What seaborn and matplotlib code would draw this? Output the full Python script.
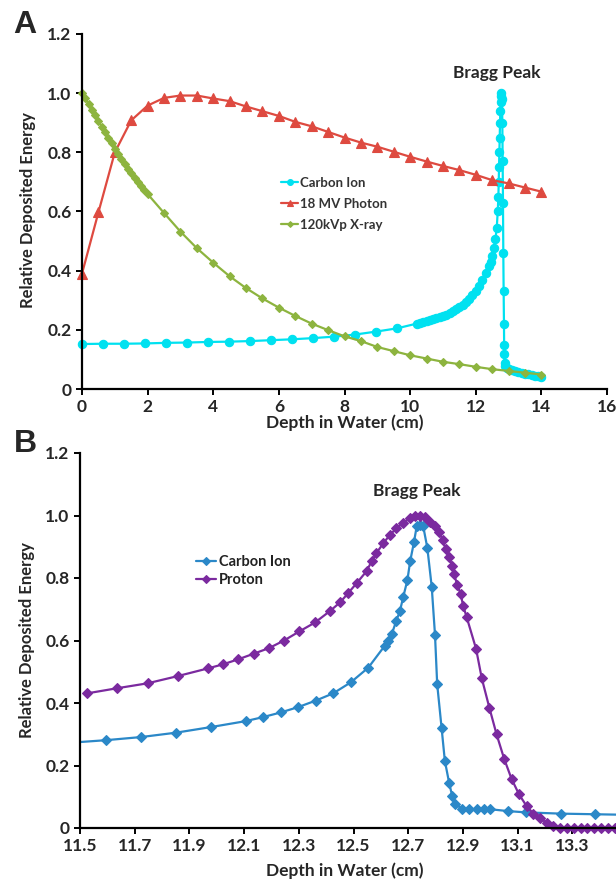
import numpy as np
import pandas as pd
import matplotlib
matplotlib.use("Agg")
import matplotlib.pyplot as plt
import seaborn as sns

# ---- Panel A: depth-dose curves ----
carbon_a_x = [0, 0.64, 1.28, 1.92, 2.56, 3.2, 3.84, 4.48, 5.12, 5.76, 6.4, 7.04, 7.68, 8.32, 8.96, 9.6,
              10.2, 10.3, 10.4, 10.5, 10.6, 10.7, 10.8, 10.9, 11.0, 11.1, 11.2, 11.3, 11.4, 11.5, 11.6,
              11.7, 11.8, 11.9, 12.0, 12.1, 12.2, 12.3, 12.4, 12.45, 12.5, 12.55, 12.6,
              12.64, 12.67, 12.69, 12.70, 12.71, 12.72, 12.73, 12.74, 12.75, 12.76, 12.77, 12.78,
              12.80, 12.81, 12.82, 12.83, 12.84, 12.85, 12.86, 12.865, 12.87, 12.88, 12.89,
              12.95, 13.0, 13.1, 13.2, 13.3, 13.4, 13.5, 13.6, 13.7, 13.8, 13.9, 14.0]
carbon_a_y = [0.152, 0.153, 0.153, 0.154, 0.156, 0.157, 0.159, 0.160, 0.162, 0.165, 0.168, 0.172, 0.177, 0.184, 0.194, 0.205,
              0.221, 0.224, 0.228, 0.231, 0.234, 0.237, 0.240, 0.243, 0.247, 0.251, 0.256, 0.262, 0.269, 0.276, 0.284,
              0.293, 0.304, 0.317, 0.332, 0.349, 0.369, 0.391, 0.415, 0.430, 0.448, 0.476, 0.506,
              0.545, 0.60, 0.65, 0.70, 0.75, 0.80, 0.85, 0.90, 0.94, 0.97, 0.99, 1.0,
              0.98, 0.90, 0.77, 0.63, 0.46, 0.33, 0.22, 0.15, 0.118, 0.087, 0.078,
              0.072, 0.069, 0.065, 0.061, 0.058, 0.055, 0.052, 0.050, 0.047, 0.045, 0.043, 0.041]

photon_x = [0, 0.5, 1, 1.5, 2, 2.5, 3, 3.5, 4, 4.5, 5, 5.5, 6, 6.5, 7, 7.5, 8, 8.5, 9, 9.5,
            10, 10.5, 11, 11.5, 12, 12.5, 13, 13.5, 14]
photon_y = [0.39, 0.597, 0.80, 0.908, 0.958, 0.984, 0.992, 0.992, 0.982, 0.973, 0.955, 0.939, 0.923, 0.903,
            0.888, 0.869, 0.85, 0.833, 0.819, 0.802, 0.785, 0.769, 0.754, 0.74, 0.724, 0.706, 0.695, 0.681, 0.667]

xray_x = [0, 0.1, 0.2, 0.3, 0.4, 0.5, 0.6, 0.7, 0.8, 0.9, 1.0, 1.1, 1.2, 1.3, 1.4, 1.5, 1.6, 1.7, 1.8, 1.9, 2.0,
          2.5, 3, 3.5, 4, 4.5, 5, 5.5, 6, 6.5, 7, 7.5, 8, 8.5, 9, 9.5, 10, 10.5, 11, 11.5, 12, 12.5, 13, 13.5, 14]
xray_y = [1.0, 0.982, 0.963, 0.944, 0.925, 0.906, 0.887, 0.868, 0.849, 0.830, 0.812, 0.795, 0.778, 0.761,
          0.745, 0.729, 0.714, 0.699, 0.685, 0.671, 0.659,
          0.595, 0.532, 0.476, 0.427, 0.381, 0.341, 0.306, 0.275, 0.247, 0.221, 0.199, 0.178, 0.162, 0.142,
          0.128, 0.114, 0.103, 0.092, 0.084, 0.075, 0.067, 0.061, 0.055, 0.049]

# ---- Panel B: zoom on the Bragg peak ----
carbon_b_x = [11.45, 11.595, 11.723, 11.851, 11.979, 12.106, 12.17, 12.235, 12.298, 12.363, 12.426, 12.49,
              12.554, 12.615, 12.627, 12.64, 12.657, 12.67, 12.682, 12.697, 12.707, 12.721, 12.731, 12.743,
              12.755, 12.77, 12.786, 12.798, 12.806, 12.822, 12.834, 12.85, 12.861, 12.871, 12.898, 12.923,
              12.95, 12.977, 13.0, 13.066, 13.13, 13.257, 13.383, 13.51]
carbon_b_y = [0.272, 0.281, 0.291, 0.305, 0.323, 0.342, 0.355, 0.370, 0.387, 0.408, 0.431, 0.466,
              0.513, 0.584, 0.600, 0.621, 0.664, 0.695, 0.740, 0.793, 0.853, 0.914, 0.965, 0.970,
              0.965, 0.896, 0.772, 0.618, 0.460, 0.321, 0.215, 0.143, 0.102, 0.078, 0.060, 0.060,
              0.060, 0.060, 0.060, 0.054, 0.050, 0.046, 0.044, 0.042]

proton_x = [11.527, 11.634, 11.747, 11.857, 11.969, 12.024, 12.079, 12.136, 12.192, 12.246, 12.302, 12.36,
            12.415, 12.451, 12.48, 12.513, 12.548, 12.566, 12.584, 12.609, 12.633, 12.657, 12.682, 12.706,
            12.724, 12.743, 12.761, 12.78, 12.798, 12.813, 12.826, 12.837, 12.849, 12.861, 12.867, 12.879,
            12.892, 12.901, 12.914, 12.948, 12.969, 12.997, 13.023, 13.051, 13.078, 13.105, 13.133, 13.158,
            13.182, 13.206, 13.231, 13.255, 13.28, 13.305, 13.33, 13.355, 13.38, 13.405, 13.43, 13.455]
proton_y = [0.431, 0.447, 0.463, 0.486, 0.511, 0.524, 0.540, 0.558, 0.576, 0.600, 0.629, 0.658,
            0.695, 0.722, 0.751, 0.785, 0.822, 0.853, 0.880, 0.911, 0.938, 0.959, 0.977, 0.991,
            0.998, 1.0, 0.994, 0.980, 0.965, 0.946, 0.922, 0.892, 0.867, 0.840, 0.814, 0.779,
            0.748, 0.711, 0.674, 0.574, 0.479, 0.384, 0.300, 0.221, 0.157, 0.108, 0.070, 0.046,
            0.031, 0.017, 0.006, 0.0, 0.0, 0.0, 0.0, 0.0, 0.0, 0.0, 0.0, 0.0]

# ticks
y_ticks = [0, 0.2, 0.4, 0.6, 0.8, 1.0, 1.2]
y_labels = ["0", "0.2", "0.4", "0.6", "0.8", "1.0", "1.2"]
xa_ticks = [0, 2, 4, 6, 8, 10, 12, 14, 16]
xb_ticks = [11.5, 11.7, 11.9, 12.1, 12.3, 12.5, 12.7, 12.9, 13.1, 13.3]
xb_labels = ["11.5", "11.7", "11.9", "12.1", "12.3", "12.5", "12.7", "12.9", "13.1", "13.3"]

sns.set_style("ticks")
plt.rcParams['font.family'] = ['Lato', 'DejaVu Sans']

W, H = 616, 881
fig = plt.figure(figsize=(W / 100, H / 100), dpi=100)

# axes placed by pixel edges
axA = fig.add_axes([82 / W, 1 - 389 / H, (607 - 82) / W, (389 - 34) / H])
axB = fig.add_axes([80 / W, 1 - 828 / H, (616 - 80) / W, (828 - 453) / H])

cyan = "#00E1F0"
red = "#DE4A40"
green = "#8DB43F"
blue = "#2B88C8"
purple = "#7B2A9F"


def draw(ax, x, y, color, marker, ms, label, clip=False):
    sns.lineplot(x=x, y=y, ax=ax, color=color, marker=marker, markersize=ms,
                 markeredgecolor=color, markeredgewidth=0.8, linewidth=1.6,
                 label=label, estimator=None, sort=False, clip_on=clip)


draw(axA, carbon_a_x, carbon_a_y, cyan, "o", 6, "Carbon Ion")
draw(axA, photon_x, photon_y, red, "^", 6.5, "18 MV Photon")
draw(axA, xray_x, xray_y, green, "D", 4.2, "120kVp X-ray")

draw(axB, carbon_b_x, carbon_b_y, blue, "D", 5, "Carbon Ion", clip=True)
draw(axB, proton_x, proton_y, purple, "D", 5, "Proton")

for ax in (axA, axB):
    ax.set_ylim(0, 1.2)
    ax.set_yticks(y_ticks)
    ax.set_yticklabels(y_labels)
    for s in ("top", "right"):
        ax.spines[s].set_visible(False)
    for s in ("left", "bottom"):
        ax.spines[s].set_linewidth(1.6)
        ax.spines[s].set_color("black")
    ax.tick_params(axis="both", direction="out", length=4, width=1.4, color="black",
                   labelsize=12.5, pad=3.5)
    for lab in ax.get_xticklabels() + ax.get_yticklabels():
        lab.set_fontweight("bold")
    ax.set_ylabel("Relative Deposited Energy", fontsize=12, fontweight="bold", va="center")

axA.set_xlim(0, 16)
axA.set_xticks(xa_ticks)
axA.set_xticklabels([str(t) for t in xa_ticks], fontweight="bold")
axB.set_xlim(11.5, 11.5 + (616 - 80) / 273.5 * 0.1 * 10)
axB.set_xticks(xb_ticks)
axB.set_xticklabels(xb_labels, fontweight="bold")

axA.set_xlabel("Depth in Water (cm)", fontsize=12.5, fontweight="bold", va="center")
axB.set_xlabel("Depth in Water (cm)", fontsize=12.5, fontweight="bold", va="center")
axA.xaxis.set_label_coords((345 - 82) / 525, (389 - 423) / 355)
axB.xaxis.set_label_coords((345 - 80) / 536, (828 - 871) / 375)
axA.yaxis.set_label_coords((28 - 82) / 525, (389 - 210) / 355)
axB.yaxis.set_label_coords((27 - 80) / 536, (828 - 640) / 375)

axA.text(12.65, 1.067, "Bragg Peak", fontsize=12.5, fontweight="bold", ha="center", va="center")
axB.text(12.73, 1.079, "Bragg Peak", fontsize=12.5, fontweight="bold", ha="center", va="center")

legA = axA.legend(loc="upper left", bbox_to_anchor=(281 / W, 1 - 177 / H),
                  bbox_transform=fig.transFigure, frameon=False, fontsize=9.5,
                  handlelength=1.3, handletextpad=0.15, labelspacing=0.68,
                  borderpad=0, borderaxespad=0, markerscale=0.7)
for t in legA.get_texts():
    t.set_fontweight("bold")
    t.set_color("#333333")

legB = axB.legend(loc="upper left", bbox_to_anchor=(196 / W, 1 - 555 / H),
                  bbox_transform=fig.transFigure, frameon=False, fontsize=10.5,
                  handlelength=1.4, handletextpad=0.15, labelspacing=0.25,
                  borderpad=0, borderaxespad=0, markerscale=0.8)
for t in legB.get_texts():
    t.set_fontweight("bold")
    t.set_color("#222222")

fig.text(25 / W, 1 - 25 / H, "A", fontsize=23, fontweight="bold",
         family=["Liberation Sans", "DejaVu Sans"], ha="center", va="center")
fig.text(25 / W, 1 - 444 / H, "B", fontsize=23, fontweight="bold",
         family=["Liberation Sans", "DejaVu Sans"], ha="center", va="center")

fig.savefig("out.png", dpi=100)
